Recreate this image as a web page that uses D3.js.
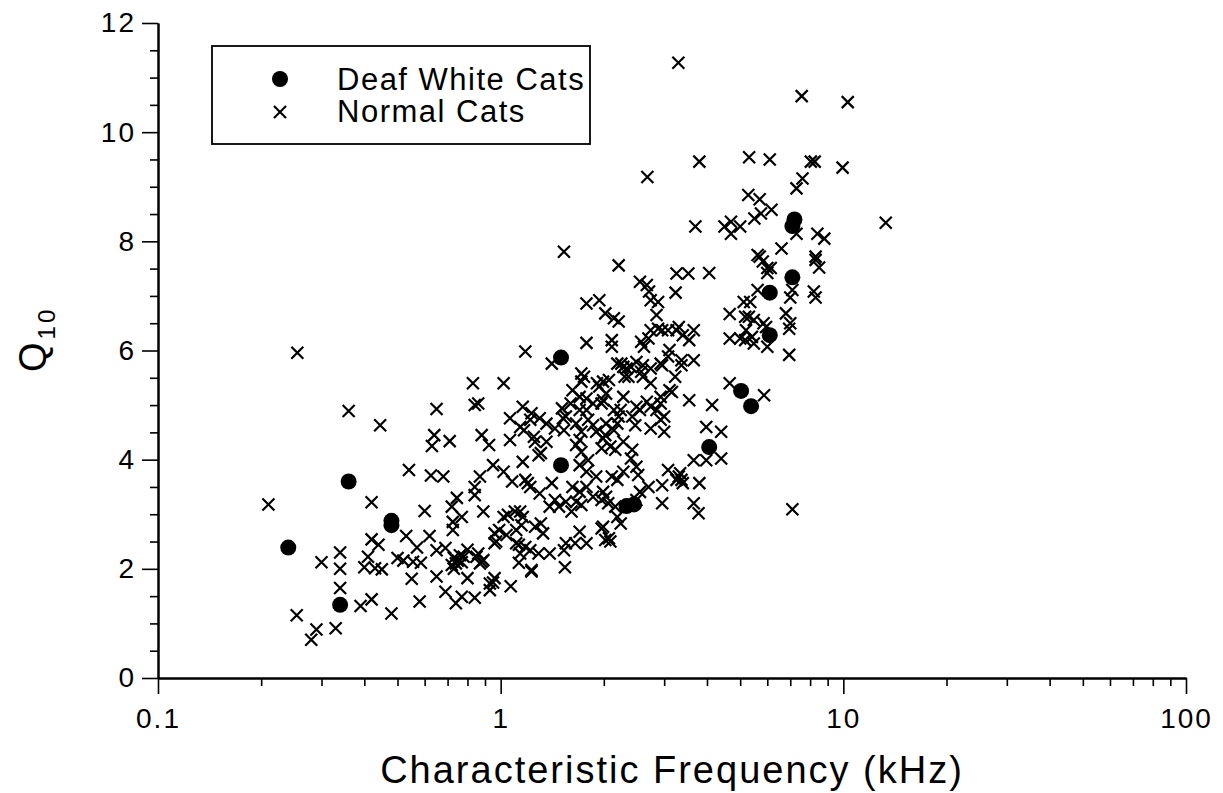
<!DOCTYPE html>
<html>
<head>
<meta charset="utf-8">
<script src="https://cdn.jsdelivr.net/npm/d3@7"></script>
<style>
  body { margin: 0; background: #fff; }
  svg { display: block; font-family: "Liberation Sans", Arial, sans-serif; }
</style>
</head>
<body>
<div id="chart"></div>
<script>
// CF in kHz, Q10
const deafCats = [
  [0.24, 2.39], [0.34, 1.34], [0.36, 3.6], [0.48, 2.88], [0.48, 2.8],
  [1.5, 5.87], [1.5, 3.9], [2.33, 3.15], [2.45, 3.18], [4.06, 4.23],
  [5.03, 5.26], [5.38, 4.98], [6.1, 6.28], [6.1, 7.06], [7.1, 7.34],
  [7.1, 8.28], [7.2, 8.4]
];

const normalCats = [
  // < 0.5 kHz
  [0.21, 3.18], [0.254, 1.15], [0.255, 5.96], [0.28, 0.7], [0.29, 0.89], [0.3, 2.12],
  [0.33, 0.91], [0.34, 2.3], [0.34, 2.0], [0.34, 1.65], [0.36, 4.89], [0.39, 1.32],
  [0.4, 2.03], [0.41, 2.22], [0.42, 3.22], [0.42, 2.54], [0.42, 1.44], [0.43, 2.01],
  [0.44, 2.44], [0.445, 4.63], [0.45, 1.99], [0.48, 1.18],
  // 0.5 - 0.7
  [0.5, 2.2], [0.52, 2.15], [0.53, 2.6], [0.54, 3.81], [0.55, 1.82], [0.555, 2.13],
  [0.57, 2.39], [0.58, 1.4], [0.585, 2.11], [0.6, 3.06], [0.62, 2.6], [0.63, 4.25],
  [0.64, 4.45], [0.626, 3.71], [0.65, 4.93], [0.65, 2.34], [0.65, 1.86], [0.68, 3.69],
  [0.69, 1.58], [0.69, 2.38],
  // 0.7 - 1
  [0.71, 4.34], [0.72, 3.14], [0.725, 2.86], [0.725, 2.71], [0.745, 3.3], [0.77, 2.95],
  [0.72, 2.07], [0.73, 2.0], [0.73, 2.2], [0.75, 2.15], [0.77, 2.12], [0.78, 2.22],
  [0.74, 2.1], [0.76, 2.25], [0.74, 1.37], [0.77, 1.49], [0.8, 1.83], [0.8, 2.35],
  [0.84, 1.47], [0.83, 5.4], [0.84, 5.0], [0.86, 5.03], [0.88, 4.45], [0.925, 4.27],
  [0.95, 3.9], [0.87, 3.69], [0.84, 3.5], [0.84, 3.35], [0.89, 3.05], [0.85, 2.22],
  [0.88, 2.13], [0.86, 2.28], [0.87, 2.1], [0.89, 2.16], [0.93, 1.73], [0.93, 1.61],
  [0.95, 1.75], [0.99, 2.71], [0.97, 2.5], [0.96, 2.65], [0.96, 2.47], [0.96, 1.83],
  // 1 - 1.5
  [1.02, 5.4], [1.065, 4.36], [1.065, 4.76], [1.02, 3.78], [1.08, 3.6], [1.02, 2.95],
  [1.05, 2.99], [1.1, 3.05], [1.14, 3.05], [1.16, 2.95], [1.15, 2.8], [1.04, 2.62],
  [1.07, 1.68], [1.13, 2.11], [1.23, 1.95], [1.11, 2.47], [1.14, 2.28], [1.13, 2.44],
  [1.18, 2.4], [1.11, 2.71], [1.16, 4.97], [1.23, 4.85], [1.22, 4.73], [1.14, 4.6],
  [1.17, 4.54], [1.18, 5.98], [1.3, 4.76], [1.36, 4.66], [1.44, 4.57], [1.25, 4.42],
  [1.26, 4.33], [1.36, 4.33], [1.29, 4.08], [1.31, 4.12], [1.16, 3.96], [1.18, 3.63],
  [1.22, 3.5], [1.2, 3.57], [1.41, 3.57], [1.3, 3.38], [1.44, 3.26], [1.48, 3.14],
  [1.39, 3.14], [1.31, 2.83], [1.33, 2.65], [1.26, 2.77], [1.22, 2.34], [1.29, 2.28],
  [1.39, 2.28], [1.23, 1.98], [1.41, 5.76],
  // 1.5 - 2
  [1.51, 4.94], [1.52, 4.76], [1.53, 4.54], [1.53, 7.81], [1.54, 2.03], [1.53, 2.34],
  [1.55, 2.47], [1.61, 3.05], [1.55, 3.23], [1.66, 3.23], [1.72, 3.17], [1.62, 3.5],
  [1.7, 3.41], [1.78, 3.5], [1.66, 4.27], [1.72, 4.14], [1.8, 3.99], [1.7, 3.9],
  [1.78, 3.78], [1.9, 3.69], [1.7, 2.68], [1.65, 2.47], [1.78, 2.47], [1.62, 5.27],
  [1.7, 5.15], [1.78, 5.12], [1.94, 5.34], [1.99, 5.09], [1.7, 4.91], [1.78, 4.91],
  [1.86, 4.63], [1.99, 4.39], [1.97, 4.21], [1.7, 4.36], [1.66, 4.66], [1.72, 4.51],
  [1.55, 4.79], [1.6, 5.03], [1.86, 5.03], [1.97, 5.03], [1.8, 4.73], [1.9, 4.51],
  [1.72, 5.58], [1.72, 5.43], [1.75, 5.52], [1.91, 5.4], [1.78, 6.86], [1.94, 6.92],
  [1.78, 6.14], [1.86, 3.32], [1.97, 3.26], [1.99, 3.41], [1.97, 2.74],
  // 2 - 3
  [2.03, 3.32], [2.02, 2.53], [1.99, 2.77], [2.07, 2.56], [2.09, 2.5], [2.19, 2.95],
  [2.24, 2.83], [2.06, 3.2], [2.16, 3.14], [2.21, 7.56], [2.55, 7.26], [2.67, 7.2],
  [2.71, 7.08], [2.74, 6.92], [2.88, 6.89], [2.02, 6.68], [2.14, 6.59], [2.21, 6.53],
  [2.11, 6.19], [2.11, 6.07], [2.85, 6.65], [2.88, 6.4], [2.74, 6.37], [2.96, 6.37],
  [2.57, 6.16], [2.7, 6.22], [2.62, 6.07], [2.49, 5.79], [2.6, 5.73], [2.74, 5.67],
  [2.25, 5.76], [2.28, 5.7], [1.99, 5.43], [2.07, 5.46], [2.19, 5.76], [2.3, 5.52],
  [2.4, 5.7], [2.6, 5.52], [2.74, 5.4], [2.96, 5.73], [2.93, 5.15], [2.93, 5.03],
  [2.85, 4.91], [2.67, 5.06], [2.74, 4.97], [2.49, 4.97], [2.55, 4.91], [2.28, 5.15],
  [2.24, 4.91], [2.19, 4.66], [2.42, 4.79], [2.47, 4.63], [2.74, 4.57], [2.93, 4.73],
  [2.09, 4.24], [2.16, 4.18], [2.28, 4.33], [2.42, 4.18], [2.4, 4.02], [2.49, 3.87],
  [2.52, 3.72], [2.28, 3.78], [2.19, 3.63], [2.11, 3.69], [2.7, 3.5], [2.96, 3.53],
  [2.55, 3.41], [2.49, 3.26], [2.96, 3.2], [2.03, 5.21], [2.14, 4.91], [2.21, 4.79],
  [2.03, 4.66], [2.14, 4.54], [2.02, 4.45], [2.68, 9.18], [2.33, 5.67], [2.36, 5.52],
  [2.57, 5.61], [2.93, 5.76],
  // 3 - 5
  [3.0, 4.79], [3.0, 4.51], [3.08, 3.81], [3.31, 3.69], [3.37, 3.63], [3.26, 3.63],
  [3.4, 3.57], [3.66, 3.2], [3.78, 3.02], [3.3, 11.27], [3.26, 7.41], [3.53, 7.41],
  [4.06, 7.42], [3.24, 7.06], [3.31, 6.43], [3.26, 6.37], [3.4, 6.28], [3.66, 6.37],
  [3.55, 6.19], [3.08, 6.37], [3.11, 6.01], [3.08, 5.89], [3.23, 5.52], [3.11, 5.27],
  [3.16, 5.24], [3.37, 5.82], [3.37, 5.73], [3.66, 5.82], [3.55, 5.09], [4.14, 5.0],
  [3.98, 4.6], [4.4, 4.51], [3.66, 3.99], [3.98, 3.99], [4.4, 4.02], [3.8, 9.46],
  [3.7, 8.27], [4.5, 8.27], [4.7, 8.36], [4.7, 8.14], [4.66, 6.67], [4.66, 6.22],
  [4.66, 5.4], [3.8, 3.57], [3.34, 3.75],
  // > 5
  [5.0, 6.22], [5.12, 6.89], [5.17, 6.62], [5.2, 6.37], [5.17, 6.19], [5.35, 6.89],
  [5.3, 6.62], [5.48, 6.56], [5.41, 6.25], [5.48, 6.13], [5.62, 7.75], [5.62, 7.11],
  [5.31, 9.54], [6.1, 9.5], [8.04, 9.46], [8.25, 9.46], [9.95, 9.35], [7.56, 10.66],
  [10.3, 10.55], [7.6, 9.15], [7.3, 8.97], [5.28, 8.85], [5.7, 8.77], [6.17, 8.58],
  [5.75, 8.51], [5.5, 8.42], [5.0, 8.27], [8.4, 8.14], [8.8, 8.05], [7.3, 8.14],
  [6.6, 7.87], [8.3, 7.72], [13.3, 8.34], [5.7, 7.72], [5.82, 7.63], [6.0, 7.51],
  [6.14, 7.51], [6.0, 7.42], [8.3, 7.66], [8.5, 7.52], [7.1, 7.11], [7.0, 6.97],
  [8.2, 7.08], [8.3, 6.97], [6.8, 6.68], [7.0, 6.5], [6.95, 6.4], [5.85, 6.5],
  [5.95, 6.43], [6.0, 6.07], [6.95, 5.92], [5.87, 5.18], [7.1, 3.09]
];

const xMajor = [0.1, 1, 10, 100];
const yMajor = [0, 2, 4, 6, 8, 10, 12];
const legendLabels = ['Deaf White Cats', 'Normal Cats'];

const W = 1223, H = 793;
const svg = d3.select('#chart').append('svg').attr('width', W).attr('height', H);

const x = d3.scaleLog().domain([0.1, 100]).range([158, 1186]);
const y = d3.scaleLinear().domain([0, 12]).range([678, 23]);

const xMinor = [];
[0.1, 1, 10].forEach(d => { for (let k = 2; k <= 9; k++) xMinor.push(+(d * k).toPrecision(3)); });
const yMinor = d3.range(0, 12.01, 0.5).filter(v => v % 2 !== 0);

function styleAxis(g) {
  g.select('.domain').attr('stroke', '#000').attr('stroke-width', 2);
  g.selectAll('.tick line').attr('stroke', '#000').attr('stroke-width', 1.6);
  g.selectAll('.tick text')
    .attr('font-family', '"Liberation Sans", Arial, sans-serif')
    .attr('font-size', 28)
    .attr('letter-spacing', 2)
    .attr('fill', '#000');
}

// x axis
svg.append('g').attr('transform', 'translate(0,678)')
  .call(d3.axisBottom(x).tickValues(xMinor).tickSize(8).tickSizeOuter(0).tickFormat(''))
  .call(styleAxis);
svg.append('g').attr('transform', 'translate(0,678)')
  .call(d3.axisBottom(x).tickValues(xMajor).tickSize(16).tickSizeOuter(0).tickPadding(14)
    .tickFormat(d3.format('~g')))
  .call(styleAxis);

// y axis
svg.append('g').attr('transform', 'translate(158,0)')
  .call(d3.axisLeft(y).tickValues(yMinor).tickSize(8).tickSizeOuter(0).tickFormat(''))
  .call(styleAxis);
svg.append('g').attr('transform', 'translate(158,0)')
  .call(d3.axisLeft(y).tickValues(yMajor).tickSize(16).tickSizeOuter(0).tickPadding(6))
  .call(styleAxis);

// axis titles
svg.append('text')
  .attr('x', 672).attr('y', 783)
  .attr('text-anchor', 'middle')
  .attr('font-size', 38)
  .attr('letter-spacing', 2)
  .text('Characteristic Frequency (kHz)');

const ylab = svg.append('text')
  .attr('transform', 'translate(46,372) rotate(-90)')
  .attr('font-size', 38);
ylab.append('tspan').text('Q');
ylab.append('tspan').attr('font-size', 24).attr('dy', 9).attr('dx', 3).attr('letter-spacing', 3).text('10');

// points
const crossPath = 'M-6,-6L6,6M-6,6L6,-6';
svg.append('g').selectAll('path')
  .data(normalCats)
  .join('path')
  .attr('d', crossPath)
  .attr('transform', d => `translate(${x(d[0])},${y(d[1])})`)
  .attr('stroke', '#000')
  .attr('stroke-width', 2.2)
  .attr('fill', 'none');

svg.append('g').selectAll('circle')
  .data(deafCats)
  .join('circle')
  .attr('cx', d => x(d[0]))
  .attr('cy', d => y(d[1]))
  .attr('r', 8)
  .attr('fill', '#000');

// legend
const lg = svg.append('g');
lg.append('rect')
  .attr('x', 212).attr('y', 46).attr('width', 378).attr('height', 98)
  .attr('fill', '#fff').attr('stroke', '#000').attr('stroke-width', 1.8);
lg.append('circle').attr('cx', 280).attr('cy', 79).attr('r', 8).attr('fill', '#000');
lg.append('path').attr('d', crossPath).attr('transform', 'translate(280,112)')
  .attr('stroke', '#000').attr('stroke-width', 2.2);
lg.selectAll('text.lab')
  .data(legendLabels)
  .join('text')
  .attr('class', 'lab')
  .attr('x', 337)
  .attr('y', (d, i) => 90 + i * 32)
  .attr('font-size', 31)
  .attr('letter-spacing', 1.5)
  .text(d => d);
</script>
</body>
</html>
